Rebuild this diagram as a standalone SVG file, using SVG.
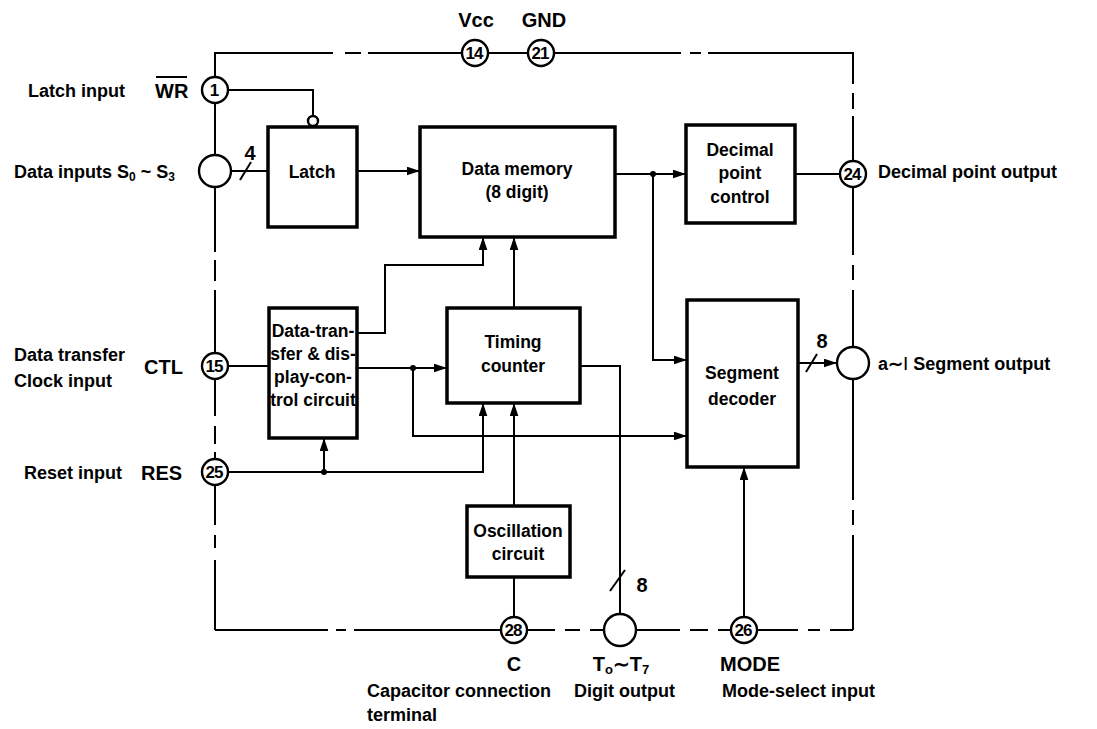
<svg xmlns="http://www.w3.org/2000/svg" width="1097" height="729" viewBox="0 0 1097 729">
<defs>
<marker id="ah" viewBox="0 0 12 8" refX="12" refY="4" markerWidth="13" markerHeight="9" markerUnits="userSpaceOnUse" orient="auto"><path d="M0,0 L12,4 L0,8 Z" fill="#000"/></marker>
<style>
.w{stroke:#000;stroke-width:2;fill:none}
.a{stroke:#000;stroke-width:2;fill:none;marker-end:url(#ah)}
.box{stroke:#000;stroke-width:3.5;fill:#fff}
.pin{stroke:#000;stroke-width:2.4;fill:#fff}
.t{font-family:"Liberation Sans",Arial,sans-serif;font-size:18px;font-weight:bold;fill:#000}
.bt{font-family:"Liberation Sans",Arial,sans-serif;font-size:17.5px;font-weight:bold;fill:#000;text-anchor:middle}
.pn{font-family:"Liberation Sans Narrow","Liberation Sans",Arial,sans-serif;font-size:17px;font-weight:bold;fill:#000;text-anchor:middle;letter-spacing:-1px}
.big{font-family:"Liberation Sans",Arial,sans-serif;font-size:20px;font-weight:bold;fill:#000}
</style>
</defs>
<rect width="1097" height="729" fill="#fff"/>
<g id="connectors">
<path class="w" d="M215,90 V53 H333 M345,53 H361 M368,53 H462 M488,53 H528 M554,53 H681 M690,53 H701 M708,53 H853 V84 M853,93 V109 M853,116 V161"/>
<path class="w" d="M853,187 V255 M853,265 V280 M853,290 V347 M853,379 V500 M853,510 V525 M853,535 V630"/>
<path class="w" d="M853,630 H830 M820,630 H808 M798,630 H757 M731,630 H718 M708,630 H690 M680,630 H636 M604,630 H590 M580,630 H565 M555,630 H527 M501,630 H354 M346,630 H336 M328,630 H215"/>
<path class="w" d="M215,630 V560 M215,548 V535 M215,525 V485 M215,459 V452 M215,444 V426 M215,416 V379 M215,353 V290 M215,281 V260 M215,252 V187 M215,155 V90"/>
<path class="w" d="M228,90 H313 V116"/>
<circle cx="313" cy="121" r="5" class="pin" stroke-width="2"/>
<path class="w" d="M231,171 H268"/>
<path class="w" d="M240,180 L251,162"/>
<path class="a" d="M357,171 H420"/>
<path class="a" d="M615,174 H686"/>
<circle cx="653" cy="174" r="3" fill="#000"/>
<path class="a" d="M653,174 V360 H687"/>
<path class="w" d="M795,174 H840"/>
<path class="a" d="M798,363 H837"/>
<path class="w" d="M806,372 L817,354"/>
<path class="a" d="M357,333 H385 V265 H483 V237"/>
<path class="a" d="M514,308 V237"/>
<path class="w" d="M228,366 H269"/>
<path class="a" d="M357,368 H447"/>
<circle cx="413" cy="368" r="3" fill="#000"/>
<path class="a" d="M413,368 V436 H687"/>
<path class="w" d="M580,366 H620 V614"/>
<path class="w" d="M610,591 L625,570"/>
<path class="a" d="M228,472 H483 V403"/>
<circle cx="324" cy="472" r="3" fill="#000"/>
<path class="a" d="M324,472 V438"/>
<path class="a" d="M514,506 V403"/>
<path class="w" d="M514,577 V617"/>
<path class="a" d="M744,617 V467"/>
</g>
<g id="pin14"><circle cx="475" cy="53" r="13" class="pin"/><text class="pn" x="474" y="59">14</text><text class="big" x="476" y="27" text-anchor="middle">Vcc</text></g>
<g id="pin21"><circle cx="541" cy="53" r="13" class="pin"/><text class="pn" x="540" y="59">21</text><text class="big" x="544" y="27" text-anchor="middle">GND</text></g>
<g id="pin1"><circle cx="215" cy="90" r="13" class="pin"/><text class="pn" x="214" y="96">1</text>
<text class="t" x="28" y="97">Latch input</text>
<text class="big" x="155" y="98">WR</text><path d="M156,77 H187" stroke="#000" stroke-width="2"/></g>
<g id="pinS"><circle cx="215" cy="171" r="16" class="pin"/>
<text class="t" x="14" y="178">Data inputs S<tspan font-size="12" dy="3">0</tspan><tspan dy="-3"> ~ S</tspan><tspan font-size="12" dy="3">3</tspan></text></g>
<g id="pin15"><circle cx="215" cy="366" r="13" class="pin"/><text class="pn" x="214" y="372">15</text>
<text class="big" x="144" y="374">CTL</text>
<text class="t" x="14" y="361">Data transfer</text><text class="t" x="14" y="387">Clock input</text></g>
<g id="pin25"><circle cx="215" cy="472" r="13" class="pin"/><text class="pn" x="214" y="478">25</text>
<text class="big" x="141" y="480">RES</text>
<text class="t" x="24" y="479">Reset input</text></g>
<g id="pin24"><circle cx="853" cy="174" r="13" class="pin"/><text class="pn" x="852" y="180">24</text>
<text class="t" x="878" y="178">Decimal point output</text></g>
<g id="pinSeg"><circle cx="853" cy="363" r="16" class="pin"/>
<text class="t" x="878" y="370">a∼<tspan font-weight="normal" font-size="19">I</tspan>  Segment output</text>
<text class="big" x="822" y="348" text-anchor="middle">8</text></g>
<g id="pin28"><circle cx="514" cy="630" r="13" class="pin"/><text class="pn" x="513" y="636">28</text>
<text class="big" x="514" y="671" text-anchor="middle">C</text>
<text class="t" x="367" y="697">Capacitor connection</text><text class="t" x="367" y="721">terminal</text></g>
<g id="pinT"><circle cx="620" cy="630" r="16" class="pin"/>
<text class="big" x="621" y="671" text-anchor="middle">T<tspan font-size="13" dy="3">o</tspan><tspan dy="-3">∼T</tspan><tspan font-size="13" dy="3">7</tspan></text>
<text class="t" x="574" y="697">Digit output</text>
<text class="big" x="642" y="592" text-anchor="middle">8</text></g>
<g id="pin26"><circle cx="744" cy="630" r="13" class="pin"/><text class="pn" x="743" y="636">26</text>
<text class="big" x="750" y="671" text-anchor="middle">MODE</text>
<text class="t" x="722" y="697">Mode-select input</text></g>
<g id="latch"><rect class="box" x="268" y="127" width="89" height="100"/><text class="bt" x="312" y="178">Latch</text>
<text class="big" x="250" y="160" text-anchor="middle">4</text></g>
<g id="memory"><rect class="box" x="420" y="127" width="195" height="110"/><text class="bt" x="517" y="175" font-size="19">Data memory</text><text class="bt" x="517" y="198" font-size="19">(8 digit)</text></g>
<g id="dpc"><rect class="box" x="686" y="125" width="109" height="98"/><text class="bt" x="740" y="156">Decimal</text><text class="bt" x="740" y="179">point</text><text class="bt" x="740" y="203">control</text></g>
<g id="dt"><rect class="box" x="269" y="308" width="88" height="130"/><text class="bt" x="313" y="337" font-size="15">Data-tran-</text><text class="bt" x="313" y="360" font-size="15">sfer &amp; dis-</text><text class="bt" x="313" y="383" font-size="15">play-con-</text><text class="bt" x="313" y="406" font-size="15">trol circuit</text></g>
<g id="tc"><rect class="box" x="447" y="308" width="133" height="95"/><text class="bt" x="513" y="348">Timing</text><text class="bt" x="513" y="372">counter</text></g>
<g id="sd"><rect class="box" x="687" y="300" width="111" height="167"/><text class="bt" x="742" y="379">Segment</text><text class="bt" x="742" y="405">decoder</text></g>
<g id="osc"><rect class="box" x="467" y="506" width="103" height="71"/><text class="bt" x="518" y="537" font-size="16.5">Oscillation</text><text class="bt" x="518" y="560" font-size="16.5">circuit</text></g>
</svg>
